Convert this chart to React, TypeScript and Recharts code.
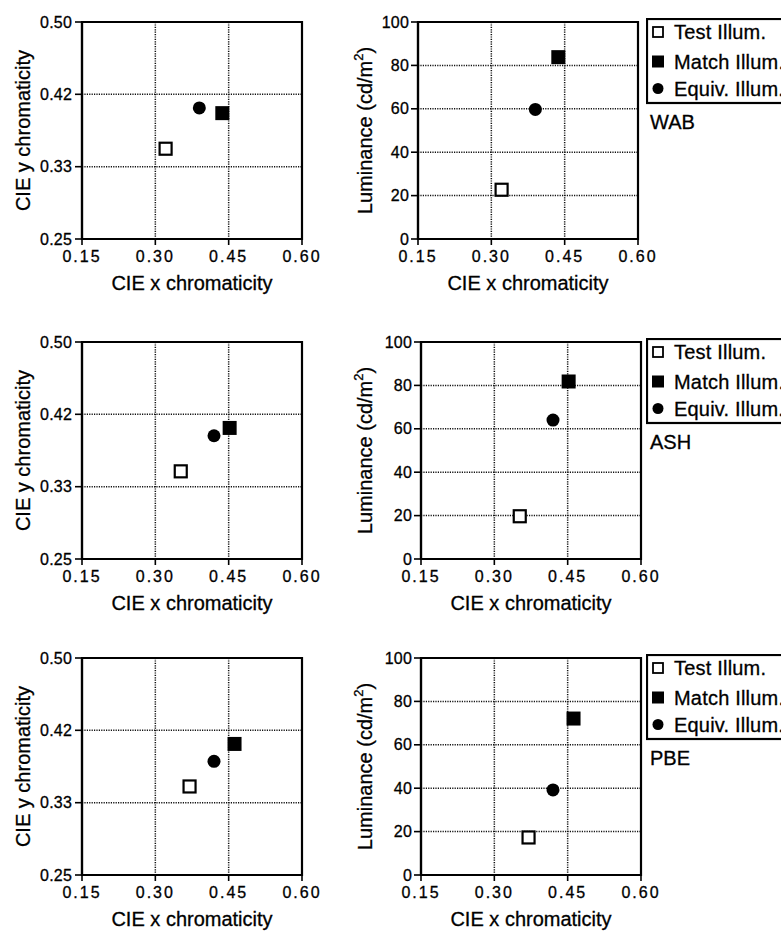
import React from 'react';
import { ScatterChart, Scatter, XAxis, YAxis, CartesianGrid, ReferenceArea, Legend } from 'recharts';

// ---------------------------------------------------------------------------
// Data
// ---------------------------------------------------------------------------

const OBSERVERS = ['WAB', 'ASH', 'PBE'];
const SERIES_NAMES = ['Test Illum.', 'Match Illum.', 'Equiv. Illum.'];

const X_TICKS = [0.15, 0.3, 0.45, 0.6];
const CHROMA_Y_TICKS = [0.25, 0.3333, 0.4167, 0.5];
const LUM_TICKS = [0, 20, 40, 60, 80, 100];

// one value per observer (WAB, ASH, PBE)
const TEST_X = [0.321, 0.352, 0.37];
const TEST_Y = [0.354, 0.351, 0.352];
const TEST_LUM = [22.7, 19.7, 17.3];

const MATCH_X = [0.437, 0.452, 0.462];
const MATCH_Y = [0.395, 0.401, 0.401];
const MATCH_LUM = [83.8, 81.8, 72.1];

const EQUIV_X = [0.39, 0.42, 0.42];
const EQUIV_Y = [0.401, 0.392, 0.381];
const EQUIV_LUM = [59.7, 64.0, 39.2];

// ---------------------------------------------------------------------------
// Layout
// ---------------------------------------------------------------------------

const FONT = '"Liberation Sans", Arial, Helvetica, sans-serif';
const ROW_TOPS = [22, 342, 658];
const RIGHT_PLOT_LEFT = [418, 421, 421];
const PLOT_W = 220;
const PLOT_H = 217;
const CHART_H = 300;
const TOP_PAD = 22;

const gridProps = {
  stroke: '#111',
  strokeDasharray: '1.2 1.2',
  strokeWidth: 1.5,
};

const tickStyleX = { fill: '#000', stroke: '#000', strokeWidth: 0.3, fontSize: 16, fontFamily: FONT, letterSpacing: 2 };
const tickStyleY = { fill: '#000', stroke: '#000', strokeWidth: 0.3, fontSize: 16, fontFamily: FONT, letterSpacing: 0.2 };

const textProps = { fontFamily: FONT, fill: '#000', stroke: '#000', strokeWidth: 0.3 };

// ---------------------------------------------------------------------------
// Marker shapes
// ---------------------------------------------------------------------------

const TestShape = (p: any) => (
  <rect x={p.cx - 6} y={p.cy - 6} width={12} height={12} fill="#fff" stroke="#000" strokeWidth={2.2} />
);
const MatchShape = (p: any) => (
  <rect x={p.cx - 7} y={p.cy - 7} width={14} height={14} fill="#000" />
);
const EquivShape = (p: any) => <circle cx={p.cx} cy={p.cy} r={6.5} fill="#000" />;

// ---------------------------------------------------------------------------
// Axis titles
// ---------------------------------------------------------------------------

const xTitle = (cx: number) => () => (
  <text x={cx} y={TOP_PAD + PLOT_H + 44} textAnchor="middle" dominantBaseline="central" fontSize={20} {...textProps}>
    CIE x chromaticity
  </text>
);

const yTitle = (x: number, lum: boolean) => () => {
  const cy = TOP_PAD + PLOT_H / 2;
  return (
    <text
      x={x}
      y={cy}
      transform={`rotate(-90, ${x}, ${cy})`}
      textAnchor="middle"
      dominantBaseline="central"
      fontSize={20}
      {...textProps}
    >
      {lum ? (
        <>
          Luminance (cd/m
          <tspan dy={-7} fontSize={13}>2</tspan>
          <tspan dy={7}>)</tspan>
        </>
      ) : (
        'CIE y chromaticity'
      )}
    </text>
  );
};

// ---------------------------------------------------------------------------
// Legend
// ---------------------------------------------------------------------------

function LegendBox({ label }: { label: string }) {
  const rows = [14, 43.5, 70.5];
  return (
    <svg width={150} height={116} style={{ display: 'block' }}>
      <rect x={1} y={1} width={170} height={84} fill="#fff" stroke="#000" strokeWidth={2.2} />
      <rect x={7} y={rows[0] - 5} width={10} height={10} fill="#fff" stroke="#000" strokeWidth={1.8} />
      <rect x={6} y={rows[1] - 6} width={12} height={12} fill="#000" />
      <circle cx={12} cy={rows[2]} r={5.5} fill="#000" />
      {SERIES_NAMES.map((name, i) => (
        <text key={name} x={28} y={rows[i]} dominantBaseline="central" fontSize={20} letterSpacing={0.2} {...textProps}>
          {name}
        </text>
      ))}
      <text x={4} y={104} dominantBaseline="central" fontSize={20} {...textProps}>
        {label}
      </text>
    </svg>
  );
}

// ---------------------------------------------------------------------------
// Panels
// ---------------------------------------------------------------------------

function ChromaPanel({ idx }: { idx: number }) {
  const plotLeft = 82;
  const width = 330;
  return (
    <div style={{ position: 'absolute', left: 0, top: ROW_TOPS[idx] - TOP_PAD }}>
      <ScatterChart
        width={width}
        height={CHART_H}
        margin={{ top: TOP_PAD, right: width - plotLeft - PLOT_W, bottom: 0, left: 0 }}
      >
        <CartesianGrid {...gridProps} verticalValues={[0.3, 0.45]} horizontalValues={[0.3333, 0.4167]} />
        <XAxis
          type="number"
          dataKey="x"
          domain={[0.15, 0.6]}
          ticks={X_TICKS}
          interval={0}
          allowDataOverflow
          height={CHART_H - TOP_PAD - PLOT_H}
          tick={tickStyleX}
          tickFormatter={(v: number) => v.toFixed(2)}
          tickSize={6}
          tickMargin={6}
          axisLine={{ stroke: '#000', strokeWidth: 2.2 }}
          tickLine={{ stroke: '#000', strokeWidth: 1.6 }}
          label={xTitle(plotLeft + PLOT_W / 2)}
        />
        <YAxis
          type="number"
          dataKey="y"
          domain={[0.25, 0.5]}
          ticks={CHROMA_Y_TICKS}
          interval={0}
          allowDataOverflow
          width={plotLeft}
          tick={tickStyleY}
          tickFormatter={(v: number) => v.toFixed(2)}
          tickSize={7}
          tickMargin={3}
          axisLine={{ stroke: '#000', strokeWidth: 2.2 }}
          tickLine={{ stroke: '#000', strokeWidth: 1.6 }}
          label={yTitle(23, false)}
        />
        <ReferenceArea x1={0.15} x2={0.6} y1={0.25} y2={0.5} fill="none" stroke="#000" strokeWidth={2.2} />
        <Scatter
          name={SERIES_NAMES[2]}
          data={[{ x: EQUIV_X[idx], y: EQUIV_Y[idx] }]}
          shape={EquivShape}
          isAnimationActive={false}
        />
        <Scatter
          name={SERIES_NAMES[1]}
          data={[{ x: MATCH_X[idx], y: MATCH_Y[idx] }]}
          shape={MatchShape}
          isAnimationActive={false}
        />
        <Scatter
          name={SERIES_NAMES[0]}
          data={[{ x: TEST_X[idx], y: TEST_Y[idx] }]}
          shape={TestShape}
          isAnimationActive={false}
        />
      </ScatterChart>
    </div>
  );
}

function LuminancePanel({ idx }: { idx: number }) {
  const chartLeft = 340;
  const width = 781 - chartLeft;
  const axisW = RIGHT_PLOT_LEFT[idx] - chartLeft;
  return (
    <div style={{ position: 'absolute', left: chartLeft, top: ROW_TOPS[idx] - TOP_PAD }}>
      <ScatterChart
        width={width}
        height={CHART_H}
        margin={{ top: TOP_PAD, right: width - axisW - PLOT_W, bottom: 0, left: 0 }}
      >
        <CartesianGrid {...gridProps} verticalValues={[0.3, 0.45]} horizontalValues={[20, 40, 60, 80]} />
        <XAxis
          type="number"
          dataKey="x"
          domain={[0.15, 0.6]}
          ticks={X_TICKS}
          interval={0}
          allowDataOverflow
          height={CHART_H - TOP_PAD - PLOT_H}
          tick={tickStyleX}
          tickFormatter={(v: number) => v.toFixed(2)}
          tickSize={6}
          tickMargin={6}
          axisLine={{ stroke: '#000', strokeWidth: 2.2 }}
          tickLine={{ stroke: '#000', strokeWidth: 1.6 }}
          label={xTitle(axisW + PLOT_W / 2)}
        />
        <YAxis
          type="number"
          dataKey="y"
          domain={[0, 100]}
          ticks={LUM_TICKS}
          interval={0}
          allowDataOverflow
          width={axisW}
          tick={tickStyleY}
          tickSize={7}
          tickMargin={2}
          axisLine={{ stroke: '#000', strokeWidth: 2.2 }}
          tickLine={{ stroke: '#000', strokeWidth: 1.6 }}
          label={yTitle(25, true)}
        />
        <ReferenceArea x1={0.15} x2={0.6} y1={0} y2={100} fill="none" stroke="#000" strokeWidth={2.2} />
        <Scatter
          name={SERIES_NAMES[2]}
          data={[{ x: EQUIV_X[idx], y: EQUIV_LUM[idx] }]}
          shape={EquivShape}
          isAnimationActive={false}
        />
        <Scatter
          name={SERIES_NAMES[1]}
          data={[{ x: MATCH_X[idx], y: MATCH_LUM[idx] }]}
          shape={MatchShape}
          isAnimationActive={false}
        />
        <Scatter
          name={SERIES_NAMES[0]}
          data={[{ x: TEST_X[idx], y: TEST_LUM[idx] }]}
          shape={TestShape}
          isAnimationActive={false}
        />
        <Legend
          layout="vertical"
          align="center"
          verticalAlign="middle"
          wrapperStyle={{ left: 646 - chartLeft, top: TOP_PAD - 4, width: 150, height: 116 }}
          content={() => <LegendBox label={OBSERVERS[idx]} />}
        />
      </ScatterChart>
    </div>
  );
}

export default function App() {
  return (
    <div
      style={{
        position: 'absolute',
        left: 0,
        top: 0,
        width: 781,
        height: 933,
        overflow: 'hidden',
        background: '#fff',
      }}
    >
      {OBSERVERS.map((name, i) => (
        <React.Fragment key={name}>
          <ChromaPanel idx={i} />
          <LuminancePanel idx={i} />
        </React.Fragment>
      ))}
    </div>
  );
}
